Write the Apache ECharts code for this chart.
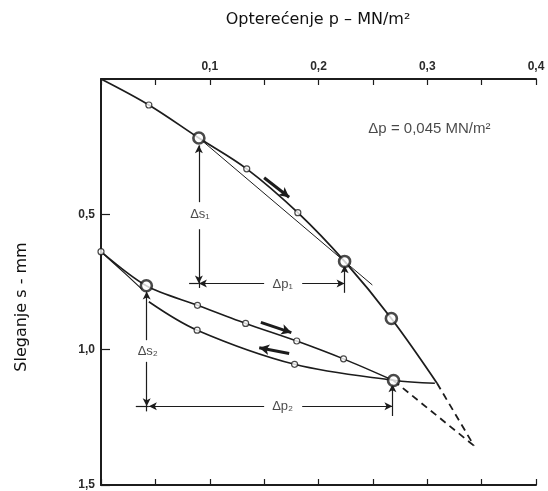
<!DOCTYPE html>
<html><head><meta charset="utf-8">
<script src="https://cdn.jsdelivr.net/npm/echarts@6/dist/echarts.min.js"></script>
<style>html,body{margin:0;padding:0;background:#fff}#c{width:548px;height:491px}</style>
</head><body><div id="c"></div>
<script>
// ---- data (p in MN/m2, s in mm) ----
var xTicks = [0.1, 0.2, 0.3, 0.4];
var yTicks = [0.5, 1.0, 1.5];
var loadP = [0, 0.044, 0.090, 0.134, 0.181, 0.224, 0.267, 0.309];
var loadS = [0, 0.096, 0.218, 0.332, 0.494, 0.674, 0.885, 1.124];
var reloadP = [0, 0.0417, 0.0887, 0.133, 0.180, 0.223, 0.269];
var reloadS = [0.638, 0.764, 0.836, 0.903, 0.968, 1.034, 1.114];
var unloadP = [0.307, 0.269, 0.178, 0.0884, 0.044];
var unloadS = [1.124, 1.113, 1.054, 0.928, 0.823];
var wedgeP = [0, 0.022, 0.038];
var wedgeS = [0.638, 0.718, 0.778];
var tipP = 0.343, tipS = 1.355;
var secantP = [0.090, 0.2495];
var secantS = [0.218, 0.761];
var smallP = [0.044, 0.134, 0.181, 0, 0.0887, 0.133, 0.180, 0.223, 0.178, 0.0884];
var smallS = [0.096, 0.332, 0.494, 0.638, 0.836, 0.903, 0.968, 1.034, 1.054, 0.928];
var bigP = [0.090, 0.224, 0.267, 0.0417, 0.269];
var bigS = [0.218, 0.674, 0.885, 0.764, 1.114];
// annotation segments [p1, s1, p2, s2]
var arrowSegs = [
  [0.090, 0.455, 0.090, 0.245], [0.090, 0.555, 0.090, 0.756],
  [0.150, 0.756, 0.090, 0.756], [0.185, 0.756, 0.224, 0.756],
  [0.224, 0.79, 0.224, 0.688],
  [0.042, 0.965, 0.042, 0.785], [0.042, 1.045, 0.042, 1.209],
  [0.150, 1.209, 0.044, 1.209], [0.185, 1.209, 0.268, 1.209],
  [0.268, 1.245, 0.268, 1.128]
];
var plainSegs = [
  [0.090, 0.756, 0.081, 0.756], [0.090, 0.756, 0.090, 0.772],
  [0.044, 1.209, 0.032, 1.209], [0.042, 1.209, 0.042, 1.228]
];
var dirArrows = [
  [0.150, 0.365, 0.173, 0.437],
  [0.147, 0.899, 0.175, 0.937],
  [0.173, 1.014, 0.1455, 0.993]
];
var annLabels = [
  {name: 'Δs₁', p: 0.091, s: 0.500, size: 13},
  {name: 'Δp₁', p: 0.167, s: 0.758, size: 13},
  {name: 'Δs₂', p: 0.043, s: 1.005, size: 13},
  {name: 'Δp₂', p: 0.167, s: 1.211, size: 13},
  {name: 'Δp = 0,045 MN/m²', p: 0.302, s: 0.184, size: 15}
];

function zip(a, b) { return a.map(function (v, i) { return [v, b[i]]; }); }
function segs(list) {
  return list.map(function (q) { return [{coord: [q[0], q[1]]}, {coord: [q[2], q[3]]}]; });
}
function fmtX(v) {
  for (var i = 0; i < xTicks.length; i++) if (Math.abs(v - xTicks[i]) < 1e-6) return xTicks[i].toFixed(1).replace('.', ',');
  return '';
}
function fmtY(v) {
  for (var i = 0; i < yTicks.length; i++) if (Math.abs(v - yTicks[i]) < 1e-6) return yTicks[i].toFixed(1).replace('.', ',');
  return '';
}
var INK = '#1c1c1c';
var axisCommon = {
  type: 'value', min: 0, max: 0.4, interval: 0.05,
  axisLine: {lineStyle: {color: INK, width: 2}},
  axisTick: {inside: true, length: 6, lineStyle: {color: INK, width: 1.2}},
  splitLine: {show: false}
};
var chart = echarts.init(document.getElementById('c'), null, {renderer: 'canvas'});
chart.setOption({
  animation: false,
  backgroundColor: '#fff',
  grid: {left: 101, top: 79, right: 12, bottom: 4},
  xAxis: [
    Object.assign({}, axisCommon, {position: 'top',
      axisLabel: {formatter: fmtX, margin: 6, color: '#2a2a2a', fontSize: 12, fontWeight: 'bold', fontFamily: 'Liberation Sans'}}),
    Object.assign({}, axisCommon, {position: 'bottom', axisLabel: {show: false}})
  ],
  yAxis: {
    type: 'value', inverse: true, min: 0, max: 1.5, interval: 0.5,
    axisLine: {lineStyle: {color: INK, width: 2}},
    axisTick: {inside: true, length: 9, lineStyle: {color: INK, width: 1.2}},
    splitLine: {show: false},
    axisLabel: {formatter: fmtY, margin: 6, color: '#2a2a2a', fontSize: 12, fontWeight: 'bold', fontFamily: 'Liberation Sans'}
  },
  graphic: [
    {type: 'text', x: 318, y: 20, style: {text: 'Opterećenje p – MN/m²', align: 'center', verticalAlign: 'middle', font: '16px "DejaVu Sans"', fill: '#111'}},
    {type: 'text', x: 22, y: 307, rotation: Math.PI / 2, style: {text: 'Sleganje s - mm', align: 'center', verticalAlign: 'middle', font: '16px "DejaVu Sans"', fill: '#111'}}
  ],
  series: [
    {type: 'line', data: zip(loadP, loadS), smooth: 0.35, symbol: 'none', lineStyle: {color: INK, width: 1.8}, z: 3},
    {type: 'line', data: [[loadP[loadP.length - 1], loadS[loadS.length - 1]], [tipP, tipS]], symbol: 'none', lineStyle: {color: INK, width: 1.8, type: [7, 5]}, z: 3},
    {type: 'line', data: zip(reloadP, reloadS), smooth: 0.3, symbol: 'none', lineStyle: {color: INK, width: 1.6}, z: 3},
    {type: 'line', data: [[reloadP[reloadP.length - 1], reloadS[reloadS.length - 1]], [tipP, tipS]], symbol: 'none', lineStyle: {color: INK, width: 1.8, type: [7, 5]}, z: 3},
    {type: 'line', data: zip(unloadP, unloadS), smooth: 0.35, symbol: 'none', lineStyle: {color: INK, width: 1.6}, z: 3},
    {type: 'line', data: zip(wedgeP, wedgeS), smooth: 0.3, symbol: 'none', lineStyle: {color: INK, width: 1.2}, z: 3},
    {type: 'line', data: zip(secantP, secantS), symbol: 'none', lineStyle: {color: INK, width: 1}, z: 3},
    {type: 'scatter', data: zip(smallP, smallS), symbol: 'circle', symbolSize: 6,
      itemStyle: {color: '#fff', borderColor: INK, borderWidth: 1.2}, z: 5},
    {type: 'scatter', data: zip(bigP, bigS), symbol: 'circle', symbolSize: 11,
      itemStyle: {color: '#fff', borderColor: INK, borderWidth: 2.6}, z: 5},
    {type: 'line', data: [], silent: true,
      markLine: {silent: true, symbol: ['none', 'arrow'], symbolSize: [6, 8], label: {show: false},
        lineStyle: {color: INK, width: 1.2, type: 'solid'}, data: segs(arrowSegs)}},
    {type: 'line', data: [], silent: true,
      markLine: {silent: true, symbol: ['none', 'none'], label: {show: false},
        lineStyle: {color: INK, width: 1.2, type: 'solid'}, data: segs(plainSegs)}},
    {type: 'line', data: [], silent: true,
      markLine: {silent: true, symbol: ['none', 'arrow'], symbolSize: [8, 10], label: {show: false},
        lineStyle: {color: INK, width: 3, type: 'solid'}, data: segs(dirArrows)}},
    {type: 'scatter', symbolSize: 0, silent: true, z: 6,
      data: annLabels.map(function (d) {
        return {name: d.name, value: [d.p, d.s], label: {fontSize: d.size}};
      }),
      label: {show: true, position: 'inside', formatter: '{b}', color: '#1a1a1a', fontSize: 13, fontFamily: 'Liberation Sans'}}
  ]
});
</script></body></html>
